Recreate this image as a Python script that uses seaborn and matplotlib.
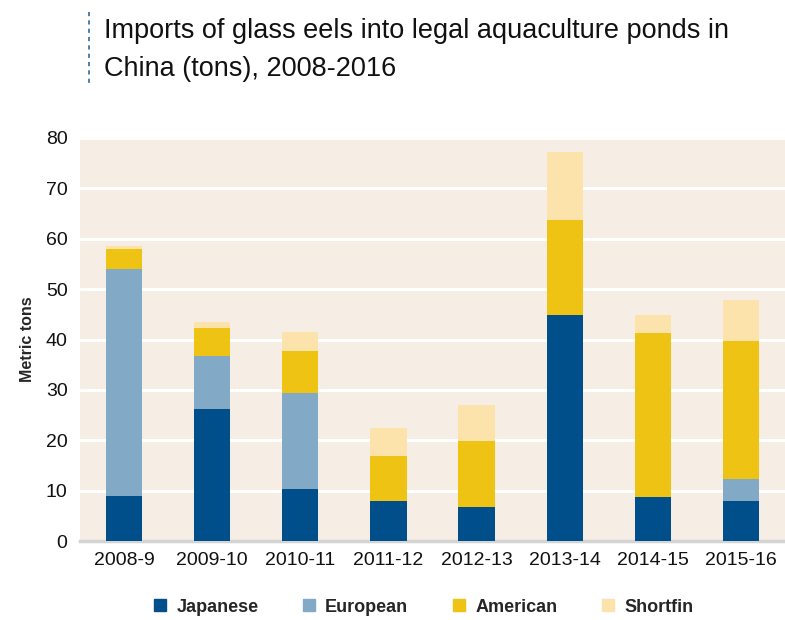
import numpy as np
import pandas as pd
import matplotlib
matplotlib.use("Agg")
import matplotlib.pyplot as plt
import seaborn as sns
from matplotlib.lines import Line2D

# ---- data (metric tons) ----
seasons = ["2008-9", "2009-10", "2010-11", "2011-12",
           "2012-13", "2013-14", "2014-15", "2015-16"]
japanese = [9.0, 26.3, 10.3, 7.9, 6.8, 44.8, 8.8, 7.9]
european = [45.0, 10.5, 19.0, 0.0, 0.0, 0.0, 0.0, 4.4]
american = [4.0, 5.5, 8.5, 8.9, 13.0, 19.0, 32.4, 27.5]
shortfin = [0.5, 1.1, 3.6, 5.6, 7.1, 13.5, 3.7, 8.1]

species = ["Japanese", "European", "American", "Shortfin"]
colors = {"Japanese": "#004f8a", "European": "#82a9c5",
          "American": "#eec313", "Shortfin": "#fce3ac"}

df = pd.DataFrame({"season": seasons, "Japanese": japanese,
                   "European": european, "American": american,
                   "Shortfin": shortfin})
# cumulative tops for stacking
cum = df[species].cumsum(axis=1)
cum["season"] = df["season"]

sns.set_style("white")
plt.rcParams["font.family"] = ["Liberation Sans", "DejaVu Sans"]

fig = plt.figure(figsize=(7.85, 6.2), dpi=100)
ax = fig.add_axes([80 / 785, 79 / 620, 705 / 785, 403 / 620])
ax.set_facecolor("#f6eee5")

# draw from the tallest layer down so each one covers the one above
for sp in reversed(species):
    sns.barplot(data=cum, x="season", y=sp, color=colors[sp],
                width=0.41, saturation=1, linewidth=0, ax=ax, zorder=3)

ax.set_ylim(0, 80)
ax.set_xlim(-0.5, 7.5)
ax.set_yticks(range(0, 81, 10))
ax.yaxis.grid(True, color="white", linewidth=2.2, zorder=1)
ax.set_axisbelow(True)
for s in ["top", "right", "left"]:
    ax.spines[s].set_visible(False)
ax.spines["bottom"].set_color("#d4d4d4")
ax.spines["bottom"].set_linewidth(2.5)
ax.tick_params(axis="both", length=0, labelsize=14, colors="#111111")
ax.tick_params(axis="x", pad=8)
ax.tick_params(axis="y", pad=9)
ax.set_xlabel("")
ax.set_ylabel("Metric tons", fontsize=11.5, fontweight="bold", labelpad=8)

# title with dashed marker line
fig.text(104 / 785, 1 - 50 / 620,
         "Imports of glass eels into legal aquaculture ponds in\nChina (tons), 2008-2016",
         fontsize=19.5, va="center", ha="left", linespacing=1.55, color="#111111")
fig.add_artist(Line2D([89 / 785, 89 / 785], [1 - 12 / 620, 1 - 86 / 620],
                      transform=fig.transFigure, color="#2c6a9c",
                      linestyle=(0, (2.5, 2.5)), linewidth=1.2))

# legend
handles = [Line2D([], [], marker="s", linestyle="", markersize=8,
                  color=colors[sp]) for sp in species]
leg = fig.legend(handles, species, loc="center", ncol=4,
                 bbox_to_anchor=(423 / 785, 1 - 607 / 620), frameon=False,
                 handletextpad=0.5, columnspacing=2.4, handlelength=0.8,
                 prop={"weight": "bold", "size": 13})

fig.savefig("out.png", dpi=100, facecolor="white")
